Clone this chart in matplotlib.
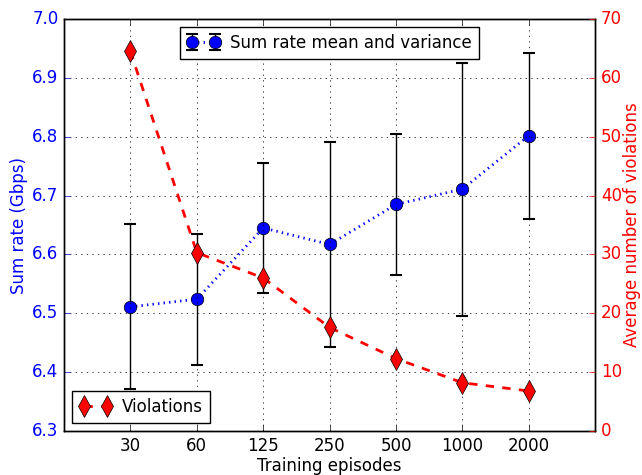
import matplotlib
matplotlib.use('Agg')
import matplotlib.pyplot as plt
import numpy as np

plt.style.use('classic')

# data
episodes = ['30', '60', '125', '250', '500', '1000', '2000']
sum_rate = [6.511, 6.524, 6.645, 6.617, 6.685, 6.711, 6.802]
sum_rate_err = [0.140, 0.111, 0.111, 0.174, 0.120, 0.215, 0.141]
violations = [64.5, 30.3, 26.0, 17.6, 12.3, 8.2, 6.8]

x = np.arange(len(episodes))

fig = plt.figure(figsize=(6.42, 4.75), dpi=100, facecolor='white')
ax1 = fig.add_axes([0.0997, 0.0926, 0.8275, 0.8674])

ax1.errorbar(x, sum_rate, yerr=sum_rate_err, fmt='o:', color='blue', ecolor='black',
             markersize=9, linewidth=2, elinewidth=1, capsize=4.5, capthick=1.5,
             markeredgecolor='black', label='Sum rate mean and variance')
ax1.set_xlim(-1, 7)
ax1.set_ylim(6.3, 7.0)
ax1.set_xticks(x)
ax1.set_xticklabels(episodes)
ax1.set_yticks(np.arange(6.3, 7.01, 0.1))
ax1.set_xlabel('Training episodes', labelpad=2)
ax1.set_ylabel('Sum rate (Gbps)', color='blue', labelpad=3)
ax1.tick_params(axis='y', colors='blue')
ax1.grid(True, linestyle=':', color='black')
ax1.legend(loc=9, numpoints=2, fancybox=False, fontsize=12, handlelength=2.0,
           handletextpad=0.6, borderaxespad=0.5)

ax2 = ax1.twinx()
ax2.plot(x, violations, 'd--', color='red', markersize=11, linewidth=2,
         markeredgecolor='black', label='Violations')
ax2.set_xlim(-1, 7)
ax2.set_ylim(0, 70)
ax2.set_ylabel('Average number of violations', color='red', labelpad=1)
ax2.tick_params(axis='y', colors='red')
ax2.legend(loc=3, numpoints=2, fancybox=False, fontsize=12, handlelength=2.0,
           handletextpad=0.6, borderaxespad=0.5)

fig.savefig('out.png', dpi=100, facecolor='white')
